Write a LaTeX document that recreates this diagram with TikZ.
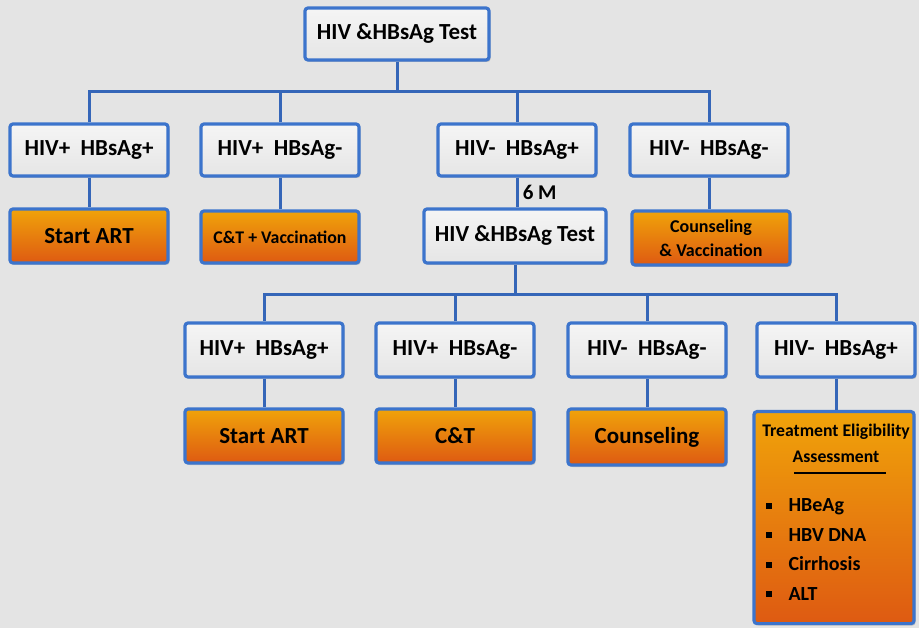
\documentclass[tikz,border=0pt]{standalone}
\usepackage{fontspec}
\setmainfont{Carlito}
\usetikzlibrary{shadows}

\definecolor{bgrey}{HTML}{E4E4E4}
\definecolor{lineblue}{HTML}{3566B8}
\definecolor{boxblue}{HTML}{3C74CC}
\definecolor{orangetop}{HTML}{F0A30A}
\definecolor{orangebot}{HTML}{DE5A12}

\tikzset{
  testbox/.style={shape=rectangle,draw=boxblue,line width=3.2pt,rounded corners=3pt,
    top color=white!92!gray,bottom color=white!80!gray,minimum width=158pt,minimum height=52pt,
    align=center,font=\fontsize{23}{26}\selectfont\bfseries,
    drop shadow={shadow xshift=1.5pt,shadow yshift=-2pt,opacity=0.35}},
  actbox/.style={testbox,top color=orangetop,bottom color=orangebot},
  link/.style={draw=lineblue,line width=3pt}
}

\begin{document}
\begin{tikzpicture}[x=1pt,y=-1pt]
\fill[bgrey] (0,0) rectangle (919,628);
\useasboundingbox (0,0) rectangle (919,628);

\node[testbox,minimum width=184pt] (t0) at (397,34) {HIV \&HBsAg Test};

\node[testbox] (a1) at (89,150) {HIV+\ \ HBsAg+};
\node[testbox] (a2) at (280,150) {HIV+\ \ HBsAg-};
\node[testbox] (a3) at (517,150) {HIV-\ \ HBsAg+};
\node[testbox] (a4) at (709,150) {HIV-\ \ HBsAg-};

\node[actbox,minimum height=54pt] (r1) at (89,236) {Start ART};
\node[actbox,minimum height=52pt,font=\fontsize{17.8}{20}\selectfont\bfseries] (r2) at (280,237) {C\&T + Vaccination};
\node[testbox,minimum width=182pt,minimum height=54pt] (t1) at (515,236) {HIV \&HBsAg Test};
\node[actbox,minimum height=54pt,font=\fontsize{18}{24}\selectfont\bfseries] (r4) at (711,238) {Counseling\\\& Vaccination};

\node[testbox,minimum height=54pt] (b1) at (264,350) {HIV+\ \ HBsAg+};
\node[testbox,minimum height=54pt] (b2) at (455,350) {HIV+\ \ HBsAg-};
\node[testbox,minimum height=54pt] (b3) at (647,350) {HIV-\ \ HBsAg-};
\node[testbox,minimum height=54pt] (b4) at (836,350) {HIV-\ \ HBsAg+};

\node[actbox,minimum height=54pt] (s1) at (264,436) {Start ART};
\node[actbox,minimum height=54pt] (s2) at (455,436) {C\&T};
\node[actbox,minimum height=56pt] (s3) at (647,437) {Counseling};
\node[actbox,minimum width=160pt,minimum height=212pt,anchor=north,inner sep=0pt] (s4) at (834,410) {};
\node[font=\fontsize{17.7}{26}\selectfont\bfseries,align=center] (s4h) at (836,443) {Treatment Eligibility\\Assessment};
\draw[line width=2.4pt] (794,473) -- (886,473);
\node[font=\fontsize{20}{29.5}\selectfont\bfseries,align=left,anchor=north west] (s4l) at (762,495)
  {\rule[3pt]{6pt}{6pt}\hspace{17pt}HBeAg\\
   \rule[3pt]{6pt}{6pt}\hspace{17pt}HBV DNA\\
   \rule[3pt]{6pt}{6pt}\hspace{17pt}Cirrhosis\\
   \rule[3pt]{6pt}{6pt}\hspace{17pt}ALT};

% first level
\coordinate (j0) at (397,92);
\path[link] (t0.south) -- (j0);
\path[link] (a1.north) |- (j0) -| (a4.north);
\path[link] (a2.north) -- (a2.north |- j0);
\path[link] (a3.north) -- (a3.north |- j0);
\path[link] (a1) -- (r1);
\path[link] (a2) -- (r2);
\path[link] (a3.south) -- node[right,font=\fontsize{21}{24}\selectfont\bfseries,xshift=1pt] (m6) {6 M} (a3.south |- t1.north);
\path[link] (a4) -- (a4 |- r4.north);

% second level
\coordinate (j1) at (515,295);
\path[link] (t1.south) -- (t1.south |- j1);
\path[link] (b1.north) |- (j1) -| (b4.north);
\path[link] (b2.north) -- (b2.north |- j1);
\path[link] (b3.north) -- (b3.north |- j1);
\path[link] (b1) -- (s1);
\path[link] (b2) -- (s2);
\path[link] (b3) -- (s3);
\path[link] (b4) -- (b4 |- s4.north);
\end{tikzpicture}
\end{document}
